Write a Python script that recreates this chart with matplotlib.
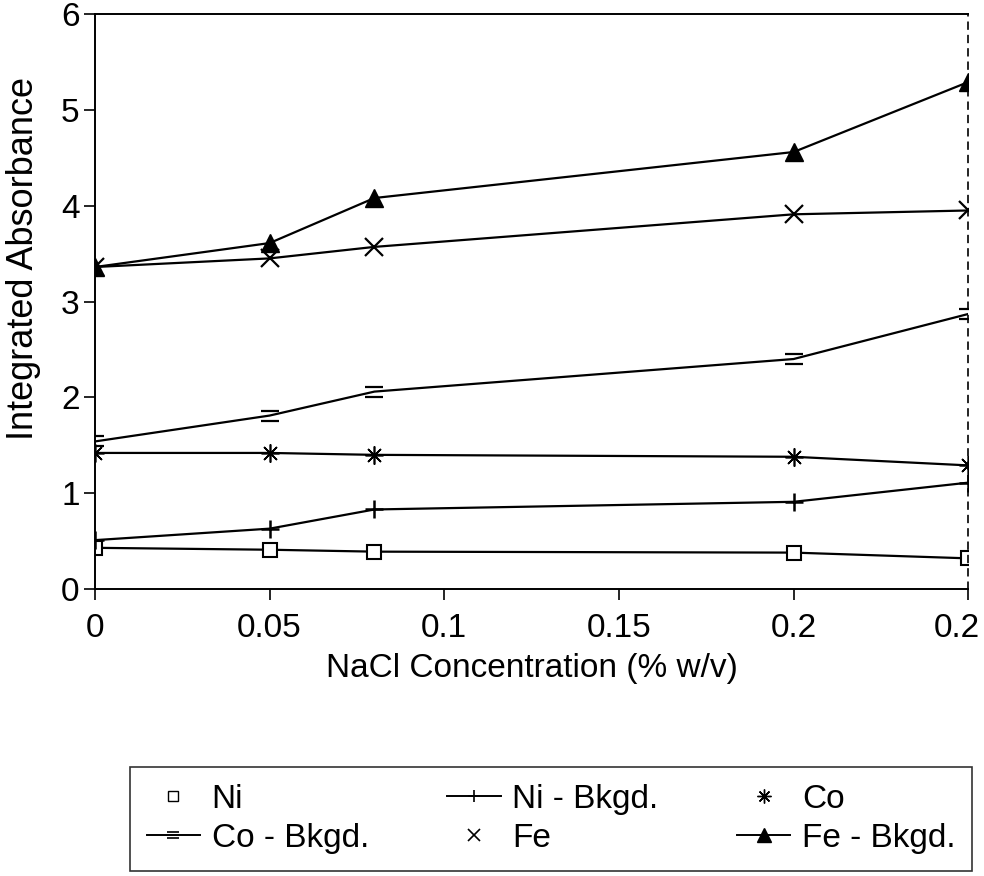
import numpy as np
import matplotlib
matplotlib.use('Agg')
import matplotlib.pyplot as plt
import matplotlib.transforms as mtransforms
from matplotlib.lines import Line2D
from matplotlib.path import Path

plt.rcParams['font.family'] = ['Liberation Sans', 'DejaVu Sans']

# NaCl concentration (% w/v)
conc = [0, 0.05, 0.08, 0.2, 0.25]

# Integrated absorbance
ni = [0.43, 0.41, 0.39, 0.38, 0.32]
ni_bkgd = [0.51, 0.63, 0.83, 0.91, 1.11]
co = [1.42, 1.42, 1.40, 1.38, 1.29]
co_bkgd = [1.54, 1.81, 2.06, 2.40, 2.87]
fe = [3.36, 3.45, 3.57, 3.91, 3.95]
fe_bkgd = [3.36, 3.61, 4.08, 4.56, 5.29]

xticks = [0, 0.05, 0.1, 0.15, 0.2, 0.25]
xticklabels = ['0', '0.05', '0.1', '0.15', '0.2', '0.2']
yticks = [0, 1, 2, 3, 4, 5, 6]

# "=" shaped marker for Co - Bkgd
eq_marker = Path([(-1, 0.55), (1, 0.55), (-1, -0.55), (1, -0.55)],
                 [Path.MOVETO, Path.LINETO, Path.MOVETO, Path.LINETO])
aster = (8, 2, 0)

fig = plt.figure(figsize=(9.84, 8.76), dpi=100)
ax = fig.add_axes([0.0965, 0.3276, 0.8875, 0.6564])

lw = 1.6
ax.plot(conc, ni, color='black', lw=lw, marker='s', ms=10, mfc='white', mew=1.5)
ax.plot(conc, ni_bkgd, color='black', lw=lw, marker='+', ms=13, mew=1.8)
ax.plot(conc, co, color='black', lw=lw, marker=aster, ms=13, mew=1.2)
ax.plot(conc, co_bkgd, color='black', lw=lw, marker=eq_marker, ms=13, mew=1.6)
ax.plot(conc, fe, color='black', lw=lw, marker='x', ms=13, mew=1.6)
ax.plot(conc, fe_bkgd, color='black', lw=lw, marker='^', ms=13, mfc='black')

ax.set_xlim(0, 0.25)
ax.set_ylim(0, 6)
ax.set_xticks(xticks)
ax.set_xticklabels(xticklabels)
ax.set_yticks(yticks)
ax.tick_params(axis='both', labelsize=24, length=8, width=1.2, direction='out', pad=3)
ax.tick_params(axis='x', pad=9)

# last tick label sits a little left so it stays inside the picture
last = ax.get_xticklabels()[-1]
last.set_transform(last.get_transform() +
                   mtransforms.ScaledTranslation(-8 / 72, 0, fig.dpi_scale_trans))

for s in ['left', 'top', 'bottom']:
    ax.spines[s].set_linewidth(1.4)
ax.spines['right'].set_linewidth(1.2)
ax.spines['right'].set_linestyle((0, (4, 4)))

ax.set_xlabel('NaCl Concentration (% w/v)', fontsize=24, labelpad=7)
ax.set_ylabel('Integrated Absorbance', fontsize=26)
ax.yaxis.set_label_coords(-0.062, 0.575)

# legend handles (Ni, Co and Fe show only their markers)
h_ni = Line2D([], [], ls='none', color='black', marker='s', ms=7, mfc='white', mew=1.0)
h_nib = Line2D([], [], color='black', lw=1.4, marker='+', ms=9, mew=1.2)
h_co = Line2D([], [], ls='none', color='black', marker=aster, ms=10, mew=1.0)
h_cob = Line2D([], [], color='black', lw=1.4, marker=eq_marker, ms=9, mew=1.2)
h_fe = Line2D([], [], ls='none', color='black', marker='x', ms=9, mew=1.2)
h_feb = Line2D([], [], color='black', lw=1.4, marker='^', ms=10, mfc='black')

handles = [h_ni, h_cob, h_nib, h_fe, h_co, h_feb]
labels = ['Ni', 'Co - Bkgd.', 'Ni - Bkgd.', 'Fe', 'Co', 'Fe - Bkgd.']
leg = fig.legend(handles, labels, loc='upper left', ncol=3, mode='expand',
                 bbox_to_anchor=(0.132, -0.2, 0.856, 0.3245), borderaxespad=0,
                 fontsize=24, frameon=True, fancybox=False, edgecolor='black',
                 handlelength=1.6, handletextpad=0.35, labelspacing=0.25,
                 borderpad=0.5, columnspacing=1.0)
leg.get_frame().set_linewidth(1.2)

fig.savefig('out.png', dpi=100)
